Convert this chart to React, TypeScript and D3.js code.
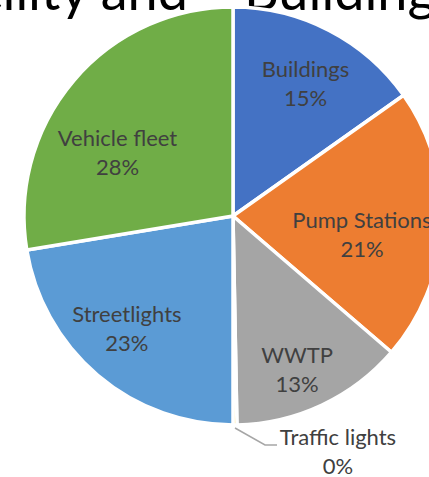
import React from 'react';
import * as d3 from 'd3';

// ---- data ----
const categories = ['Buildings', 'Pump Stations', 'WWTP', 'Traffic lights', 'Streetlights', 'Vehicle fleet'];
const values = [15.2, 21.1, 13.4, 0.3, 22.4, 27.6];
const percentLabels = ['15%', '21%', '13%', '0%', '23%', '28%'];
const colors = ['#4472C4', '#ED7D31', '#A5A5A5', '#FFC000', '#5B9BD5', '#70AD47'];
const titleParts = ['Facility and', 'Buildings'];

// ---- layout ----
const W = 429;
const H = 477;
const CX = 233;
const CY = 216;
const R = 209;
// label placement (polar: degrees clockwise from top, distance from centre)
const labelAngles = [28.8, 98.2, 157.4, null, 223.2, 298.8];
const labelDists = [150.6, 130.3, 166.8, null, 155, 131.8];
const FONT = 'Lato, "Open Sans", sans-serif';
const LABEL_SIZE = 22;

export default function App() {
  const pie = d3.pie<number>().value((d) => d).sort(null);
  const arcs = pie(values);
  const arcGen = d3.arc<d3.PieArcDatum<number>>().innerRadius(0).outerRadius(R);

  const rad = (deg: number) => (deg * Math.PI) / 180;

  // traffic lights leader line
  const tl = arcs[3];
  const tlMid = (tl.startAngle + tl.endAngle) / 2;
  const lx0 = CX + Math.sin(tlMid) * (R + 3);
  const ly0 = CY - Math.cos(tlMid) * (R + 3);
  const tlLabelX = 338;
  const tlLine1 = 445;

  return (
    <svg width={W} height={H} style={{ position: 'absolute', left: 0, top: 0, display: 'block' }}>
      <rect width={W} height={H} fill="#ffffff" />
      <text x={188} y={10} fontFamily={FONT} fontSize={54} fill="#000000" textAnchor="end">
        {titleParts[0]}
      </text>
      <text x={244} y={10} fontFamily={FONT} fontSize={54} fill="#000000" textAnchor="start">
        {titleParts[1]}
      </text>
      <g transform={`translate(${CX},${CY})`}>
        {arcs.map((a, i) => (
          <path key={categories[i]} d={arcGen(a) || ''} fill={colors[i]} stroke="#ffffff" strokeWidth={3.5} strokeLinejoin="round" />
        ))}
      </g>
      {arcs.map((a, i) => {
        const ang = labelAngles[i];
        const dist = labelDists[i];
        if (ang == null || dist == null) return null;
        const x = CX + Math.sin(rad(ang)) * dist;
        const y = CY - Math.cos(rad(ang)) * dist;
        return (
          <text key={'l' + i} fontFamily={FONT} fontSize={LABEL_SIZE} fill="#404040" textAnchor="middle">
            <tspan x={x} y={y - 7}>{categories[i]}</tspan>
            <tspan x={x} y={y + 22}>{percentLabels[i]}</tspan>
          </text>
        );
      })}
      <polyline
        points={`${lx0},${ly0} ${265},${445} ${277},${445}`}
        fill="none"
        stroke="#A6A6A6"
        strokeWidth={1.5}
      />
      <text fontFamily={FONT} fontSize={LABEL_SIZE} fill="#404040" textAnchor="middle">
        <tspan x={tlLabelX} y={tlLine1}>{categories[3]}</tspan>
        <tspan x={tlLabelX} y={tlLine1 + 29}>{percentLabels[3]}</tspan>
      </text>
    </svg>
  );
}
